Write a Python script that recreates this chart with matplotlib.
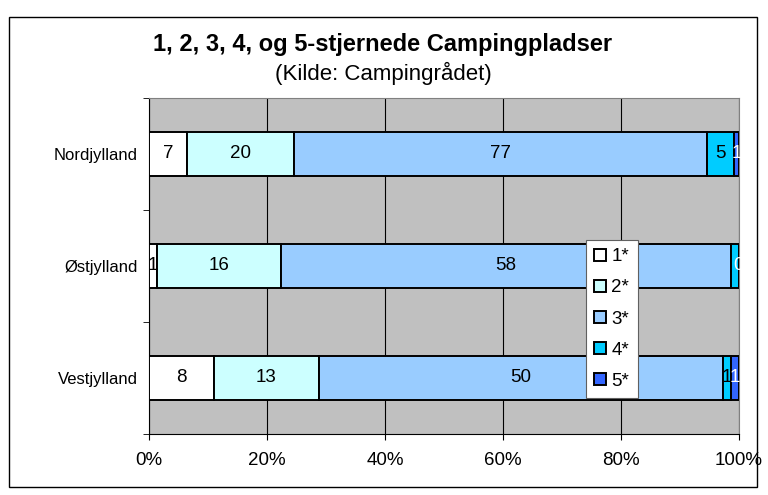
# 100% stacked bars: campsites by star rating per region

import numpy as np
import matplotlib.pyplot as plt
from matplotlib.patches import Rectangle

plt.rcParams['font.family'] = ['Liberation Sans', 'DejaVu Sans']

regions = ['Nordjylland', 'Østjylland', 'Vestjylland']
stars = ['1*', '2*', '3*', '4*', '5*']
counts = {
    '1*': [7, 1, 8],
    '2*': [20, 16, 13],
    '3*': [77, 58, 50],
    '4*': [5, 1, 1],
    '5*': [1, 0, 1],
}
# the reference hides the 4* label for Østjylland (covered by the 5* label)
show_label = {
    '4*': [True, False, True],
}
colors = ['#FFFFFF', '#CCFFFF', '#99CCFF', '#00CCFF', '#3366FF']
label_colors = ['black', 'black', 'black', 'black', 'white']
xtick_labels = ['0%', '20%', '40%', '60%', '80%', '100%']

fig = plt.figure(figsize=(7.68, 4.95), dpi=100)
ax = fig.add_axes([149/768, 61/495, 590/768, 336/495])
ax.set_facecolor('#C0C0C0')

totals = np.sum([counts[s] for s in stars], axis=0)
ypos = np.arange(len(regions))[::-1]
left = np.zeros(len(regions))
handles = []
for s, c, lc in zip(stars, colors, label_colors):
    vals = np.array(counts[s])
    share = vals / totals * 100
    h = ax.barh(ypos, share, left=left, height=0.4, color=c,
                edgecolor='black', linewidth=1.4, zorder=3, label=s)
    handles.append(h)
    shows = show_label.get(s, [True] * len(regions))
    for y, l, w, v, show in zip(ypos, left, share, vals, shows):
        if show:
            ax.text(l + w / 2, y, str(v), ha='center', va='center',
                    fontsize=13.5, color=lc, zorder=5)
    left += share

ax.set_xlim(0, 100)
ax.set_ylim(-0.5, 2.5)
ax.set_xticks(np.arange(0, 101, 20))
ax.set_xticklabels(xtick_labels, fontsize=13.5)
ax.set_yticks(ypos)
ax.set_yticklabels(regions, fontsize=12)
ax.set_yticks([-0.5, 0.5, 1.5, 2.5], minor=True)
ax.tick_params(axis='y', which='major', length=0, pad=8)
ax.tick_params(axis='y', which='minor', length=4, direction='out')
ax.tick_params(axis='x', length=4, direction='out', pad=9)
ax.grid(axis='x', color='black', linewidth=0.8, zorder=1)
ax.set_axisbelow(True)
for side in ['top', 'right']:
    ax.spines[side].set_color('#808080')
for side in ['left', 'bottom']:
    ax.spines[side].set_color('black')

fig.text(383/768, 1 - 45/495, '1, 2, 3, 4, og 5-stjernede Campingpladser',
         ha='center', va='center', fontsize=17, fontweight='bold')
fig.text(383/768, 1 - 73/495, '(Kilde: Campingrådet)',
         ha='center', va='center', fontsize=16)

leg = fig.legend(handles=handles, loc='upper left',
                 bbox_to_anchor=(586/768, 1 - 240/495), fontsize=13.5,
                 frameon=True, fancybox=False, framealpha=1,
                 handlelength=0.6, handleheight=0.6, handletextpad=0.3,
                 labelspacing=0.75, borderpad=0.45, borderaxespad=0)
leg.get_frame().set_edgecolor('#606060')
leg.get_frame().set_linewidth(0.8)

fig.patches.append(Rectangle((9/768, 1 - 487/495), 748/768, 470/495,
                             transform=fig.transFigure, fill=False,
                             edgecolor='black', linewidth=1))

plt.savefig('out.png', dpi=100)
